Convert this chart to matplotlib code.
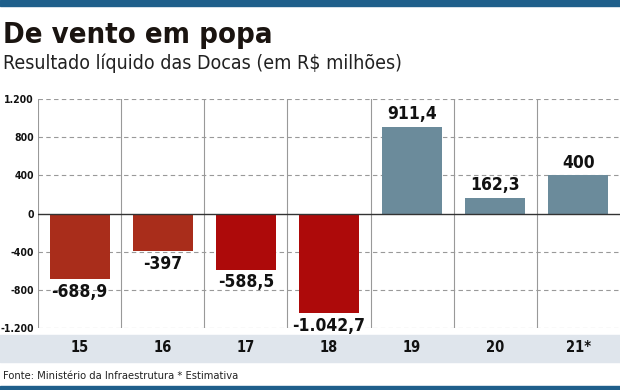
import matplotlib.pyplot as plt
from matplotlib.patches import Rectangle

anos = ['15', '16', '17', '18', '19', '20', '21*']
resultado = [-688.9, -397, -588.5, -1042.7, 911.4, 162.3, 400]
rotulos = ['-688,9', '-397', '-588,5', '-1.042,7', '911,4', '162,3', '400']
cores = ['#a92d1b', '#a92d1b', '#ad0a0a', '#ad0a0a', '#6b8b9b', '#6b8b9b', '#6b8b9b']
yticks = [-1200, -800, -400, 0, 400, 800, 1200]
ytick_labels = ['-1.200', '-800', '-400', '0', '400', '800', '1.200']

plt.rcParams['font.family'] = ['DejaVu Sans']
plt.rcParams['font.stretch'] = 'condensed'

fig = plt.figure(figsize=(6.2, 3.9), dpi=100)
fig.patch.set_facecolor('white')

# faixas azuis e faixa das categorias
fig.add_artist(Rectangle((0, 1 - 6 / 390), 1, 6 / 390, transform=fig.transFigure,
                         color='#1f5f8b', zorder=0))
fig.add_artist(Rectangle((0, 0), 1, 4 / 390, transform=fig.transFigure,
                         color='#1f5f8b', zorder=0))
fig.add_artist(Rectangle((0, 1 - 362 / 390), 1, 27 / 390, transform=fig.transFigure,
                         color='#dfe5ec', zorder=0))

fig.text(0.005, 1 - 35 / 390, 'De vento em popa', fontsize=21, fontweight='bold',
         color='#1a1410', va='center', ha='left')
fig.text(0.005, 1 - 63 / 390, 'Resultado líquido das Docas (em R$ milhões)', fontsize=14,
         color='#222222', va='center', ha='left')
fig.text(0.005, 1 - 376 / 390, 'Fonte: Ministério da Infraestrutura * Estimativa',
         fontsize=8, color='#222222', va='center', ha='left')

ax = fig.add_axes([38 / 620, 1 - 328 / 390, 1 - 38 / 620, 229 / 390])
x = list(range(len(anos)))
ax.bar(x, resultado, width=0.72, color=cores, zorder=3)
ax.set_xlim(-0.5, len(anos) - 0.5)
ax.set_ylim(-1200, 1200)

for yv in yticks:
    if yv == 0:
        ax.axhline(0, color='#333333', lw=1, zorder=4)
    else:
        ax.axhline(yv, color='#999999', lw=0.8, ls=(0, (4, 3)), zorder=1)
for i in range(len(anos)):
    ax.axvline(i - 0.5, color='#999999', lw=0.8, zorder=1)

for i, (v, t) in enumerate(zip(resultado, rotulos)):
    if v < 0:
        ax.text(i, v - 40, t, ha='center', va='top', fontsize=12.5, fontweight='bold',
                color='#111111', zorder=5)
    else:
        ax.text(i, v + 40, t, ha='center', va='bottom', fontsize=12.5, fontweight='bold',
                color='#111111', zorder=5)

ax.set_yticks(yticks)
ax.set_yticklabels(ytick_labels, fontsize=7.5, fontweight='bold', color='#111111')
ax.tick_params(axis='y', length=0, pad=3)
ax.set_xticks([])
for s in ax.spines.values():
    s.set_visible(False)

for i, a in enumerate(anos):
    fig.text((38 + 83.1 * (i + 0.5)) / 620, 1 - 348 / 390, a, ha='center', va='center',
             fontsize=10.5, fontweight='bold', color='#111111')

fig.savefig('out.png', dpi=100, facecolor='white')
